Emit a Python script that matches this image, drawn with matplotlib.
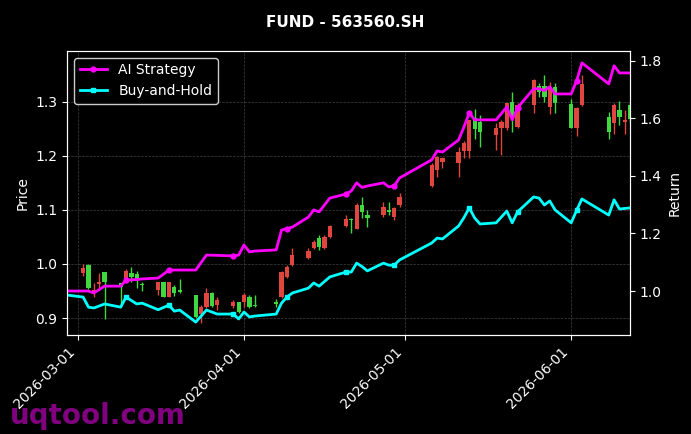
import matplotlib
matplotlib.use("Agg")
import matplotlib.pyplot as plt
import matplotlib.dates as mdates
import pandas as pd

# strategy / benchmark curves (right axis)
line_dates = ["2026-02-27", "2026-03-02", "2026-03-03", "2026-03-04", "2026-03-06",
              "2026-03-09", "2026-03-10", "2026-03-12", "2026-03-13", "2026-03-16",
              "2026-03-18", "2026-03-19", "2026-03-20", "2026-03-23", "2026-03-25",
              "2026-03-27", "2026-03-30", "2026-03-31", "2026-04-01", "2026-04-02",
              "2026-04-03", "2026-04-07", "2026-04-08", "2026-04-09", "2026-04-10",
              "2026-04-13", "2026-04-14", "2026-04-15", "2026-04-17", "2026-04-20",
              "2026-04-21", "2026-04-22", "2026-04-23", "2026-04-24", "2026-04-27",
              "2026-04-28", "2026-04-29", "2026-04-30", "2026-05-06", "2026-05-07",
              "2026-05-08", "2026-05-11", "2026-05-12", "2026-05-13", "2026-05-14",
              "2026-05-15", "2026-05-18", "2026-05-20", "2026-05-21", "2026-05-22",
              "2026-05-25", "2026-05-26", "2026-05-27", "2026-05-28", "2026-05-29",
              "2026-06-01", "2026-06-02", "2026-06-03", "2026-06-08", "2026-06-09",
              "2026-06-10", "2026-06-12"]
ai_strategy = [1.000, 1.000, 1.000, 0.993, 1.017, 1.017, 1.038, 1.040, 1.042, 1.045,
               1.073, 1.073, 1.073, 1.073, 1.125, 1.124, 1.122, 1.125, 1.160, 1.136,
               1.139, 1.143, 1.212, 1.217, 1.222, 1.257, 1.282, 1.275, 1.323, 1.337,
               1.348, 1.376, 1.360, 1.365, 1.376, 1.362, 1.365, 1.393, 1.456, 1.487,
               1.483, 1.525, 1.570, 1.619, 1.595, 1.595, 1.595, 1.640, 1.595, 1.637,
               1.703, 1.703, 1.697, 1.710, 1.685, 1.685, 1.730, 1.793, 1.720, 1.783,
               1.758, 1.758]
buy_hold = [0.986, 0.979, 0.944, 0.941, 0.955, 0.944, 0.979, 0.955, 0.958, 0.935,
            0.951, 0.930, 0.934, 0.892, 0.934, 0.920, 0.920, 0.903, 0.927, 0.910,
            0.913, 0.920, 0.958, 0.979, 0.993, 1.010, 1.028, 1.017, 1.049, 1.066,
            1.066, 1.097, 1.085, 1.070, 1.097, 1.090, 1.090, 1.108, 1.167, 1.184,
            1.181, 1.226, 1.255, 1.289, 1.254, 1.233, 1.237, 1.278, 1.237, 1.275,
            1.327, 1.323, 1.299, 1.313, 1.282, 1.237, 1.280, 1.320, 1.264, 1.317,
            1.285, 1.289]
marker_dates = ["2026-03-10", "2026-03-18", "2026-03-30", "2026-04-09", "2026-04-20",
                "2026-04-29", "2026-05-13", "2026-05-22", "2026-06-02"]

# daily candles (left axis)
candle_dates = ["2026-03-02", "2026-03-03", "2026-03-04", "2026-03-05", "2026-03-06",
                "2026-03-09", "2026-03-10", "2026-03-11", "2026-03-12", "2026-03-13",
                "2026-03-16", "2026-03-17", "2026-03-18", "2026-03-19", "2026-03-20",
                "2026-03-23", "2026-03-24", "2026-03-25", "2026-03-26", "2026-03-27",
                "2026-03-30", "2026-03-31", "2026-04-01", "2026-04-02", "2026-04-03",
                "2026-04-07", "2026-04-08", "2026-04-09", "2026-04-10", "2026-04-13",
                "2026-04-14", "2026-04-15", "2026-04-16", "2026-04-17", "2026-04-20",
                "2026-04-21", "2026-04-22", "2026-04-23", "2026-04-24", "2026-04-27",
                "2026-04-28", "2026-04-29", "2026-04-30", "2026-05-06", "2026-05-07",
                "2026-05-08", "2026-05-11", "2026-05-12", "2026-05-13", "2026-05-14",
                "2026-05-15", "2026-05-18", "2026-05-19", "2026-05-20", "2026-05-21",
                "2026-05-22", "2026-05-25", "2026-05-26", "2026-05-27", "2026-05-28",
                "2026-05-29", "2026-06-01", "2026-06-02", "2026-06-03", "2026-06-08",
                "2026-06-09", "2026-06-10", "2026-06-11", "2026-06-12"]
opens = [0.983, 0.998, 0.946, 0.963, 0.985, 0.965, 0.974, 0.983, 0.981, 0.962,
         0.952, 0.967, 0.939, 0.957, 0.952, 0.943, 0.907, 0.920, 0.946, 0.924,
         0.922, 0.930, 0.930, 0.939, 0.924, 0.929, 0.939, 0.976, 0.998, 1.011,
         1.030, 1.048, 1.030, 1.050, 1.070, 1.082, 1.065, 1.109, 1.091, 1.091,
         1.098, 1.087, 1.109, 1.144, 1.174, 1.189, 1.187, 1.209, 1.209, 1.270,
         1.263, 1.239, 1.252, 1.252, 1.300, 1.254, 1.294, 1.330, 1.330, 1.291,
         1.328, 1.296, 1.252, 1.294, 1.272, 1.261, 1.285, 1.263, 1.294]
highs = [1.000, 1.000, 0.965, 0.983, 0.985, 0.965, 0.991, 0.994, 0.987, 0.967,
         0.967, 0.967, 0.967, 0.961, 0.972, 0.943, 0.924, 0.956, 0.948, 0.939,
         0.933, 0.930, 0.946, 0.943, 0.943, 0.935, 0.987, 0.998, 1.030, 1.030,
         1.044, 1.054, 1.054, 1.072, 1.091, 1.085, 1.113, 1.124, 1.100, 1.115,
         1.115, 1.106, 1.131, 1.187, 1.200, 1.198, 1.216, 1.228, 1.267, 1.287,
         1.276, 1.261, 1.267, 1.298, 1.319, 1.298, 1.343, 1.335, 1.350, 1.337,
         1.335, 1.306, 1.291, 1.350, 1.282, 1.298, 1.302, 1.285, 1.300]
lows = [0.978, 0.954, 0.939, 0.956, 0.898, 0.920, 0.972, 0.967, 0.956, 0.950,
        0.943, 0.939, 0.939, 0.941, 0.946, 0.900, 0.891, 0.918, 0.920, 0.915,
        0.919, 0.909, 0.920, 0.919, 0.920, 0.920, 0.937, 0.974, 0.996, 1.009,
        1.028, 1.026, 1.028, 1.048, 1.069, 1.057, 1.064, 1.085, 1.069, 1.087,
        1.091, 1.081, 1.106, 1.143, 1.161, 1.178, 1.161, 1.196, 1.196, 1.231,
        1.217, 1.211, 1.202, 1.248, 1.244, 1.252, 1.280, 1.309, 1.300, 1.278,
        1.280, 1.252, 1.237, 1.293, 1.231, 1.241, 1.257, 1.241, 1.260]
closes = [0.993, 0.956, 0.952, 0.967, 0.967, 0.957, 0.987, 0.976, 0.970, 0.961,
          0.967, 0.939, 0.967, 0.946, 0.948, 0.902, 0.920, 0.946, 0.922, 0.933,
          0.930, 0.911, 0.943, 0.920, 0.922, 0.926, 0.985, 0.994, 1.017, 1.024,
          1.041, 1.031, 1.050, 1.070, 1.083, 1.081, 1.109, 1.096, 1.085, 1.106,
          1.097, 1.104, 1.124, 1.183, 1.198, 1.196, 1.207, 1.224, 1.267, 1.250,
          1.244, 1.252, 1.263, 1.298, 1.270, 1.294, 1.341, 1.319, 1.309, 1.328,
          1.298, 1.252, 1.289, 1.333, 1.244, 1.294, 1.272, 1.267, 1.268]

UP = "#e0453f"
DOWN = "#3fd83f"

fig = plt.figure(figsize=(6.91, 4.34), dpi=100, facecolor="black")
ax = fig.add_axes([0.097, 0.228, 0.815, 0.655], facecolor="black")

cd = pd.to_datetime(candle_dates)
x = mdates.date2num(cd)
for xi, o, h, l, c in zip(x, opens, highs, lows, closes):
    col = UP if c >= o else DOWN
    ax.vlines(xi, l, h, color=col, linewidth=1)
    body = max(abs(c - o), 0.002)
    ax.bar(xi, body, bottom=min(o, c), width=0.8, color=col, edgecolor=col, linewidth=0)

ax.set_ylim(0.8685, 1.3944)
ax.set_ylabel("Price", color="white")
ax.grid(True, linestyle="--", linewidth=0.5, color="gray", alpha=0.5)

ax2 = ax.twinx()
ld = pd.to_datetime(line_dates)
marks = [line_dates.index(d) for d in marker_dates]
ax2.plot(ld, ai_strategy, color="magenta", lw=2, marker="o", markersize=3.5,
         markevery=marks, label="AI Strategy")
ax2.plot(ld, buy_hold, color="cyan", lw=2, marker="s", markersize=3.5,
         markevery=marks, label="Buy-and-Hold")
ax2.set_ylim(0.847, 1.835)
ax2.set_ylabel("Return", color="white")
ax.set_xlim(ld[0], ld[-1])

ax.xaxis.set_major_locator(mdates.MonthLocator())
ax.xaxis.set_major_formatter(mdates.DateFormatter("%Y-%m-%d"))
plt.setp(ax.get_xticklabels(), rotation=45, ha="right")

for a in (ax, ax2):
    a.tick_params(colors="white", labelsize=10)
    for s in a.spines.values():
        s.set_color("white")

leg = ax2.legend(loc="upper left", facecolor="black", edgecolor="white", fontsize=10)
for t in leg.get_texts():
    t.set_color("white")

fig.suptitle("FUND - 563560.SH", color="white", fontweight="bold", fontsize=11, y=0.965)
fig.text(0.014, 0.022, "uqtool.com", color="purple", fontsize=20, fontweight="bold")

fig.savefig("out.png", dpi=100, facecolor="black")
